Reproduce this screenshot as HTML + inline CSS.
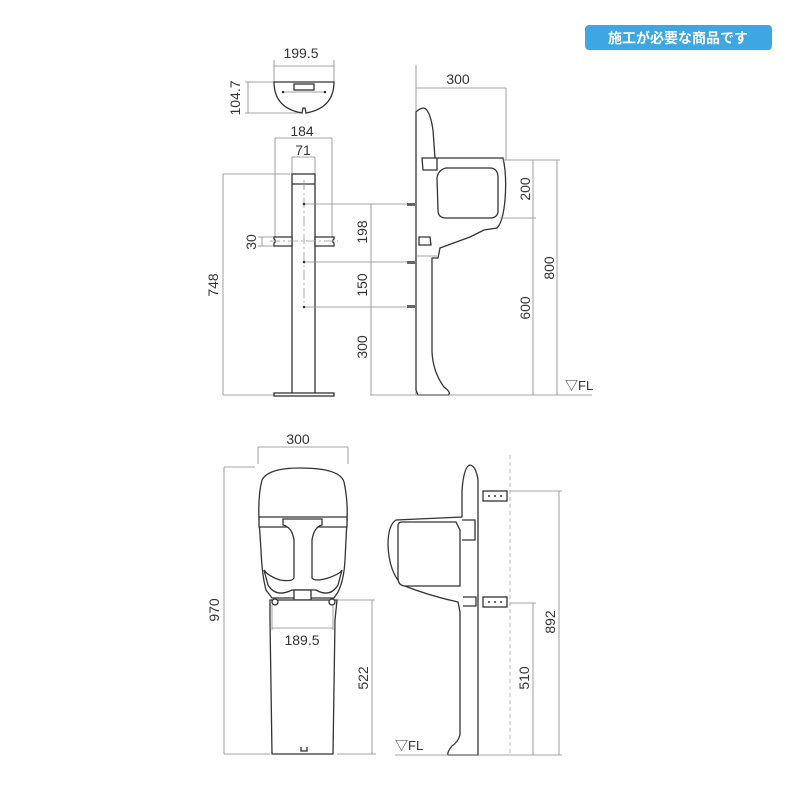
<!DOCTYPE html>
<html><head><meta charset="utf-8"><style>
html,body{margin:0;padding:0;background:#fff}
svg{display:block}
text{font-family:"Liberation Sans","Noto Sans CJK JP",sans-serif;fill:#333;font-size:14px}
.o{fill:#fff;stroke:#333;stroke-width:1.3}
.d{fill:none;stroke:#888;stroke-width:0.8}
.c{fill:none;stroke:#999;stroke-width:0.8;stroke-dasharray:10 3 2 3}
</style></head><body>
<svg width="800" height="800" viewBox="0 0 800 800" xmlns="http://www.w3.org/2000/svg">
<!-- badge -->
<rect x="585" y="25" width="187" height="25" rx="4" fill="#3ea6e0"/>
<text x="678" y="43" text-anchor="middle" style="fill:#fff;font-size:14px;font-weight:bold">施工が必要な商品です</text>

<!-- ===== top-left plan ===== -->
<path class="d" d="M274 60V82M334 60V82M274 66H334M245 82H274M245 113H300M248 82V113"/>
<text x="301" y="58" text-anchor="middle">199.5</text>
<text transform="translate(240,98) rotate(-90)" text-anchor="middle">104.7</text>
<path class="o" d="M274 82H334Q334 108 306 113L305 108H303L302 113Q274 108 274 82Z"/>
<rect class="o" x="294" y="84" width="20" height="6" stroke-width="1"/>
<path class="d" d="M283 92H325"/><circle cx="283" cy="92" r="1.3" fill="#333"/><circle cx="325" cy="92" r="1.3" fill="#333"/>

<!-- ===== post front ===== -->
<path class="d" d="M275 138H332M275 138V245M332 138V245M292 157H315M292 157V174M315 157V174"/>
<text x="302" y="136" text-anchor="middle">184</text>
<text x="303" y="155" text-anchor="middle">71</text>
<path class="d" d="M223 174H290M223 174V395M223 395H290"/>
<text transform="translate(218,285) rotate(-90)" text-anchor="middle">748</text>
<path class="d" d="M258 237H274M258 246H274M262 237V246"/>
<text transform="translate(256,242) rotate(-90)" text-anchor="middle">30</text>
<rect class="o" x="292" y="174" width="23" height="220"/>
<path class="o" d="M292 184H315" fill="none"/>
<path class="o" d="M274 237H292V246H274V243Q277 241 274 239Z"/>
<path class="o" d="M315 237H334V239Q331 241 334 243V246H315Z"/>
<rect class="o" x="274" y="393" width="60" height="3"/>
<path class="c" d="M304 180V307M270 241H338"/>
<path class="d" d="M304 204H410M304 262H410M304 307H410M370 395H416M371 204V395"/>
<circle cx="304" cy="204" r="1.3" fill="#333"/><circle cx="304" cy="262" r="1.3" fill="#333"/><circle cx="304" cy="307" r="1.3" fill="#333"/>
<text transform="translate(367,232) rotate(-90)" text-anchor="middle">198</text>
<text transform="translate(367,285) rotate(-90)" text-anchor="middle">150</text>
<text transform="translate(367,347) rotate(-90)" text-anchor="middle">300</text>

<!-- ===== side top ===== -->
<path class="d" d="M416 65V395M416 88H506M506 88V160"/>
<text x="458" y="84" text-anchor="middle">300</text>
<path class="o" d="M416 112Q420 108 424 108Q430 110 433 130L435 158H503Q507 175 505 200Q503 222 497 228L484 230L470 237L440 248L438 258H432V352Q433 372 444 387Q452 393 448 395H418L416 390Z"/>
<path class="o" d="M422 158H437V170H423Z" fill="none"/>
<path class="o" d="M437 178Q438 170 446 168H490Q497 168 498 176V212Q497 218 490 218H446Q438 218 438 210Z"/>
<path class="o" d="M419 237H430L431 245H419Z" fill="none"/>
<path class="d" d="M416 256H437"/>
<rect x="407" y="203" width="8" height="3" fill="#666"/><rect x="407" y="261" width="8" height="3" fill="#666"/><rect x="407" y="305" width="8" height="3" fill="#666"/>
<path class="d" d="M503 160H560M500 218H536M533 160V395M557 160V395M416 395H592"/>
<text transform="translate(530,189) rotate(-90)" text-anchor="middle">200</text>
<text transform="translate(554,268) rotate(-90)" text-anchor="middle">800</text>
<text transform="translate(530,308) rotate(-90)" text-anchor="middle">600</text>
<text x="565" y="390" style="font-size:13px">▽FL</text>

<!-- ===== bottom front ===== -->
<path class="d" d="M258 447H348M258 447V464M348 447V464M224 467H255M224 467V754M224 754H270"/>
<text x="298" y="444" text-anchor="middle">300</text>
<text transform="translate(219,610) rotate(-90)" text-anchor="middle">970</text>
<path class="o" d="M262 480Q268 468 300 468Q340 468 344 482Q348 500 347 520L345 560Q344 580 338 592L334 598H272L266 590Q262 575 261 550L259 520Q258 495 262 480Z"/>
<path class="o" d="M259 517H347V527H259Z" fill="none"/>
<path class="o" d="M283 519H322V525Q314 527 312 540V578Q315 582 328 578Q340 574 342 570L338 585Q330 598 316 590L292 590Q276 598 268 585L264 570Q268 576 280 580Q292 582 294 578V540Q292 527 283 525Z"/>
<rect class="o" x="294" y="590" width="17" height="10"/>
<path class="o" d="M270 600H337L335 620L333 754H272L270 620Z"/>
<circle class="o" cx="275" cy="602" r="3"/><circle class="o" cx="332" cy="602" r="3"/>
<path class="d" d="M272 605V630M333 605V630M272 628H333M337 600H375M372 600V754M337 754H376"/>
<text x="302" y="645" text-anchor="middle">189.5</text>
<text transform="translate(368,678) rotate(-90)" text-anchor="middle">522</text>
<path class="o" d="M301 747V751H307V747" fill="none"/>

<!-- ===== bottom side ===== -->
<path d="M510 455V755" fill="none" stroke="#aaa" stroke-width="0.8" stroke-dasharray="4 3"/>
<path class="o" d="M478 480Q476 466 470 465Q464 466 462 490V517L396 520Q388 525 388 545Q389 572 402 585Q430 596 458 602L460 612V735Q458 742 452 746Q447 752 448 755H478Z"/>
<path class="o" d="M398 526Q398 522 402 522H456L460 530V586H406Q398 586 398 578Z"/>
<path class="o" d="M462 520H475V540H462" fill="none"/>
<path class="o" d="M463 597H476V606H463" fill="none"/>
<rect class="o" x="483" y="491" width="24" height="10" stroke-width="1"/>
<rect class="o" x="483" y="597" width="24" height="10" stroke-width="1"/>
<g fill="#333"><circle cx="489" cy="496" r="1"/><circle cx="495" cy="496" r="1"/><circle cx="501" cy="496" r="1"/><circle cx="489" cy="602" r="1"/><circle cx="495" cy="602" r="1"/><circle cx="501" cy="602" r="1"/></g>
<path class="d" d="M510 491H562M510 603H536M559 491V755M533 603V755M395 755H562"/>
<text transform="translate(555,622) rotate(-90)" text-anchor="middle">892</text>
<text transform="translate(529,678) rotate(-90)" text-anchor="middle">510</text>
<text x="395" y="750" style="font-size:13px">▽FL</text>
</svg>
</body></html>
